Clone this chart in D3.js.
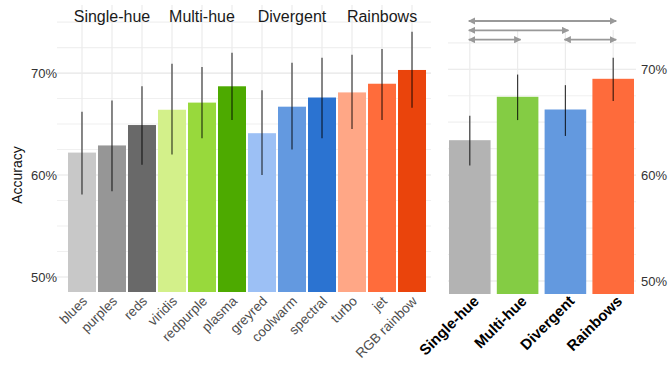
<!DOCTYPE html>
<style>
body { margin: 0; background: #fff; }
text { font-family: "Liberation Sans", Arial, sans-serif; }
</style>
<svg width="670" height="366" class="chart"></svg>
<script src="https://d3js.org/d3.v7.min.js"></script>
<script>

// left panel: individual colormaps
var maps = ["blues", "purples", "reds", "viridis", "redpurple", "plasma", "greyred", "coolwarm", "spectral", "turbo", "jet", "RGB rainbow"];
var mapAcc = [62.2, 62.9, 64.9, 66.4, 67.1, 68.7, 64.1, 66.7, 67.6, 68.1, 68.95, 70.3];
var mapLo = [58.1, 58.4, 61.0, 62.0, 63.6, 65.4, 60.0, 62.5, 63.6, 64.5, 65.4, 66.6];
var mapHi = [66.2, 67.3, 68.7, 70.9, 70.6, 72.0, 68.3, 71.0, 71.5, 71.8, 72.35, 74.05];
var mapColors = ["#c8c8c8", "#969696", "#696969", "#d3f08a", "#98d93c", "#4daa00", "#9cc0f5", "#6399e0", "#2b73d1", "#ffa786", "#ff6c3b", "#ea440c"];

// right panel: colormap families
var groups = ["Single-hue", "Multi-hue", "Divergent", "Rainbows"];
var groupAcc = [63.3, 67.4, 66.2, 69.1];
var groupLo = [60.9, 65.2, 63.7, 67.0];
var groupHi = [65.6, 69.5, 68.5, 71.1];
var groupColors = ["#b3b3b3", "#84cc44", "#6399df", "#fe6b3b"];

// significance arrows between families
var pairs = [["Single-hue", "Rainbows"], ["Single-hue", "Divergent"], ["Single-hue", "Multi-hue"], ["Divergent", "Rainbows"]];
var pairRow = [0, 1, 2, 2];

var yTicks = [50, 60, 70];

var svg = d3.select(".chart");

// ---- left panel ----
var xL = d3.scaleBand().domain(maps).range([67, 427]).paddingInner(0.067).paddingOuter(0.033);
var yL = d3.scaleLinear().domain([48.53, 76.67]).range([292, 5]);

var gL = svg.append("g");

gL.append("g").selectAll("line")
    .data(d3.range(50, 76, 2.5))
  .enter().append("line")
    .attr("x1", 57).attr("x2", 431)
    .attr("y1", function(d) { return yL(d); }).attr("y2", function(d) { return yL(d); })
    .attr("stroke", function(d) { return d % 10 == 0 ? "#e6e6e6" : "#f0f0f0"; })
    .attr("stroke-width", 1.2);

gL.append("g").selectAll("line")
    .data(maps)
  .enter().append("line")
    .attr("x1", function(d) { return xL(d) + xL.bandwidth() / 2; })
    .attr("x2", function(d) { return xL(d) + xL.bandwidth() / 2; })
    .attr("y1", 5).attr("y2", 292)
    .attr("stroke", "#ebebeb").attr("stroke-width", 1.2);

gL.append("g").selectAll("rect")
    .data(maps)
  .enter().append("rect")
    .attr("x", function(d) { return xL(d); })
    .attr("width", xL.bandwidth())
    .attr("y", function(d, i) { return yL(mapAcc[i]); })
    .attr("height", function(d, i) { return yL.range()[0] - yL(mapAcc[i]); })
    .attr("fill", function(d, i) { return mapColors[i]; });

gL.append("g").selectAll("line")
    .data(maps)
  .enter().append("line")
    .attr("x1", function(d) { return xL(d) + xL.bandwidth() / 2; })
    .attr("x2", function(d) { return xL(d) + xL.bandwidth() / 2; })
    .attr("y1", function(d, i) { return yL(mapLo[i]); })
    .attr("y2", function(d, i) { return yL(mapHi[i]); })
    .attr("stroke", "#000").attr("stroke-opacity", 0.75).attr("stroke-width", 1.2);

// family titles over the groups of three
gL.append("g").selectAll("text")
    .data(groups)
  .enter().append("text")
    .attr("x", function(d, i) { return xL(maps[i * 3 + 1]) + xL.bandwidth() / 2; })
    .attr("y", 22)
    .attr("text-anchor", "middle")
    .attr("font-size", 16)
    .attr("fill", "#1a1a1a")
    .text(function(d) { return d; });

gL.append("g").selectAll("text")
    .data(yTicks)
  .enter().append("text")
    .attr("x", 57).attr("y", function(d) { return yL(d); })
    .attr("dy", "0.36em")
    .attr("text-anchor", "end")
    .attr("font-size", 13)
    .attr("fill", "#333")
    .text(function(d) { return d + "%"; });

svg.append("text")
    .attr("transform", "translate(22," + yL(60) + ") rotate(-90)")
    .attr("text-anchor", "middle")
    .attr("font-size", 14)
    .attr("fill", "#111")
    .text("Accuracy");

gL.append("g").selectAll("text")
    .data(maps)
  .enter().append("text")
    .attr("transform", function(d) { return "translate(" + (xL(d) + xL.bandwidth() / 2 + 6) + ",302) rotate(-45)"; })
    .attr("text-anchor", "end")
    .attr("font-size", 13.5)
    .attr("fill", "#4d4d4d")
    .text(function(d) { return d; });

// ---- right panel ----
var xR = d3.scaleBand().domain(groups).range([449, 634]).paddingInner(0.13).paddingOuter(0.0);
var yR = d3.scaleLinear().domain([48.77, 73.71]).range([294, 30]);

var gR = svg.append("g");

gR.append("g").selectAll("line")
    .data(d3.range(50, 73, 2.5))
  .enter().append("line")
    .attr("x1", 448).attr("x2", 636)
    .attr("y1", function(d) { return yR(d); }).attr("y2", function(d) { return yR(d); })
    .attr("stroke", function(d) { return d % 10 == 0 ? "#e6e6e6" : "#f0f0f0"; })
    .attr("stroke-width", 1.2);

gR.append("g").selectAll("line")
    .data(groups)
  .enter().append("line")
    .attr("x1", function(d) { return xR(d) + xR.bandwidth() / 2; })
    .attr("x2", function(d) { return xR(d) + xR.bandwidth() / 2; })
    .attr("y1", 30).attr("y2", 294)
    .attr("stroke", "#ebebeb").attr("stroke-width", 1.2);

gR.append("g").selectAll("rect")
    .data(groups)
  .enter().append("rect")
    .attr("x", function(d) { return xR(d); })
    .attr("width", xR.bandwidth())
    .attr("y", function(d, i) { return yR(groupAcc[i]); })
    .attr("height", function(d, i) { return yR.range()[0] - yR(groupAcc[i]); })
    .attr("fill", function(d, i) { return groupColors[i]; });

gR.append("g").selectAll("line")
    .data(groups)
  .enter().append("line")
    .attr("x1", function(d) { return xR(d) + xR.bandwidth() / 2; })
    .attr("x2", function(d) { return xR(d) + xR.bandwidth() / 2; })
    .attr("y1", function(d, i) { return yR(groupLo[i]); })
    .attr("y2", function(d, i) { return yR(groupHi[i]); })
    .attr("stroke", "#000").attr("stroke-opacity", 0.75).attr("stroke-width", 1.2);

gR.append("g").selectAll("text")
    .data(yTicks)
  .enter().append("text")
    .attr("x", 641).attr("y", function(d) { return yR(d); })
    .attr("dy", "0.36em")
    .attr("font-size", 13)
    .attr("fill", "#333")
    .text(function(d) { return d + "%"; });

gR.append("g").selectAll("text")
    .data(groups)
  .enter().append("text")
    .attr("transform", function(d) { return "translate(" + (xR(d) + xR.bandwidth() / 2 + 10) + ",302) rotate(-45)"; })
    .attr("text-anchor", "end")
    .attr("font-size", 15)
    .attr("font-weight", "bold")
    .attr("fill", "#000")
    .text(function(d) { return d; });

// double-headed arrows
var defs = svg.append("defs");
defs.append("marker")
    .attr("id", "head")
    .attr("viewBox", "0 0 10 10")
    .attr("refX", 9).attr("refY", 5)
    .attr("markerWidth", 4).attr("markerHeight", 4)
    .attr("orient", "auto-start-reverse")
  .append("path")
    .attr("d", "M0,0L10,5L0,10z")
    .attr("fill", "#999");

var rowY = d3.scaleLinear().domain([0, 2]).range([21, 39.7]);

gR.append("g").selectAll("line")
    .data(pairs)
  .enter().append("line")
    .attr("x1", function(d) { return xR(d[0]) + xR.bandwidth() / 2 - 1; })
    .attr("x2", function(d) { return xR(d[1]) + xR.bandwidth() / 2 + 3; })
    .attr("y1", function(d, i) { return rowY(pairRow[i]); })
    .attr("y2", function(d, i) { return rowY(pairRow[i]); })
    .attr("stroke", "#999").attr("stroke-width", 1.8)
    .attr("marker-start", "url(#head)")
    .attr("marker-end", "url(#head)");

</script>
